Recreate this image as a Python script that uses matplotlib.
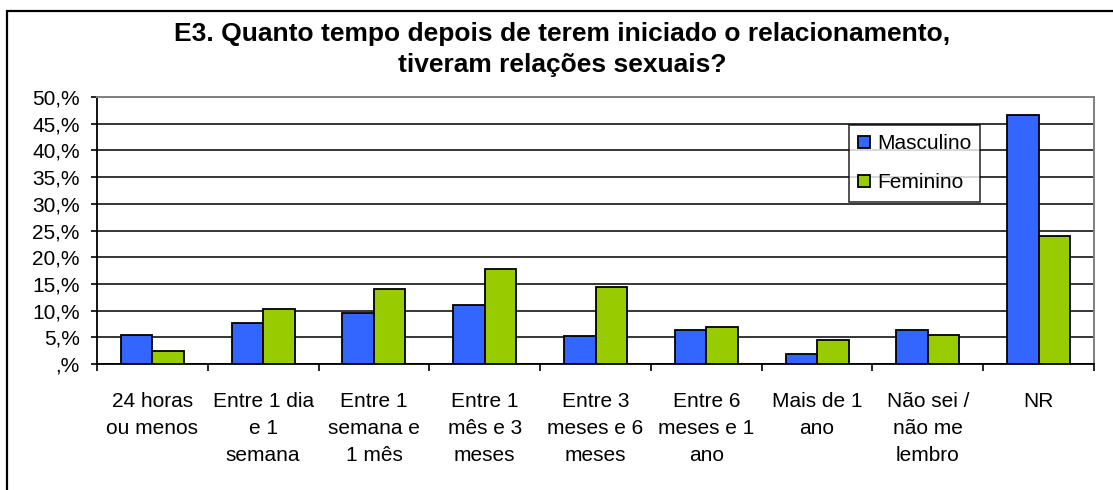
import numpy as np
import matplotlib
matplotlib.use("Agg")
import matplotlib.pyplot as plt
from matplotlib.patches import Rectangle
from matplotlib.ticker import FuncFormatter

plt.rcParams['font.family'] = ['Liberation Sans', 'DejaVu Sans']

categories = [
    "24 horas\nou menos",
    "Entre 1 dia\ne 1\nsemana",
    "Entre 1\nsemana e\n1 mês",
    "Entre 1\nmês e 3\nmeses",
    "Entre 3\nmeses e 6\nmeses",
    "Entre 6\nmeses e 1\nano",
    "Mais de 1\nano",
    "Não sei /\nnão me\nlembro",
    "NR",
]
masculino = [5.5, 7.7, 9.6, 11.1, 5.2, 6.3, 1.9, 6.3, 46.6]
feminino = [2.5, 10.3, 14.0, 17.8, 14.4, 7.0, 4.5, 5.5, 24.0]
series_names = ["Masculino", "Feminino"]
y_ticks = [0, 5, 10, 15, 20, 25, 30, 35, 40, 45, 50]

title = "E3. Quanto tempo depois de terem iniciado o relacionamento,\ntiveram relações sexuais?"

fig = plt.figure(figsize=(11.13, 4.9), dpi=100)
ax = fig.add_axes([97 / 1113, 1 - 364 / 490, 997 / 1113, 267 / 490])

# outer chart frame (left and top edges visible)
fig.patches.append(Rectangle((7 / 1113, -0.1), 1.2, 0.1 + (490 - 11) / 490,
                             transform=fig.transFigure, fill=False,
                             edgecolor='black', linewidth=1.6))

x = np.arange(len(categories))
w = 0.284
ax.bar(x - w / 2, masculino, w, color='#3366FF', edgecolor='black',
       linewidth=1.3, label=series_names[0], zorder=3)
ax.bar(x + w / 2, feminino, w, color='#99CC00', edgecolor='black',
       linewidth=1.3, label=series_names[1], zorder=3)

ax.set_xlim(-0.5, len(categories) - 0.5)
ax.set_ylim(0, 50)
ax.set_yticks(y_ticks)
ax.yaxis.set_major_formatter(FuncFormatter(lambda v, p: f"{int(v)},%" if v else ",%"))
ax.tick_params(axis='y', length=4.5, width=1.2, pad=8, labelsize=15)
ax.yaxis.grid(True, color='black', linewidth=1.1, zorder=0)

ax.set_xticks(x)
ax.set_xticklabels(categories, fontsize=15, linespacing=1.55)
ax.tick_params(axis='x', which='major', length=0, pad=20)
ax.set_xticks(np.arange(-0.5, len(categories)), minor=True)
ax.tick_params(axis='x', which='minor', length=5, width=1.2, direction='out')

for side in ['top', 'right']:
    ax.spines[side].set_color('#808080')
    ax.spines[side].set_linewidth(1.4)
for side in ['left', 'bottom']:
    ax.spines[side].set_color('black')
    ax.spines[side].set_linewidth(1.3)

leg = ax.legend(loc='upper left', bbox_to_anchor=(0.754, 0.895), fontsize=15,
                frameon=True, fancybox=False, edgecolor='black',
                handlelength=0.55, handleheight=0.55, handletextpad=0.35,
                labelspacing=0.95, borderpad=0.45, borderaxespad=0)
leg.get_frame().set_linewidth(1.2)

fig.text(0.505, 0.899, title, ha='center', va='center', fontsize=19,
         fontweight='bold', linespacing=1.42)

fig.savefig("out.png", dpi=100)
